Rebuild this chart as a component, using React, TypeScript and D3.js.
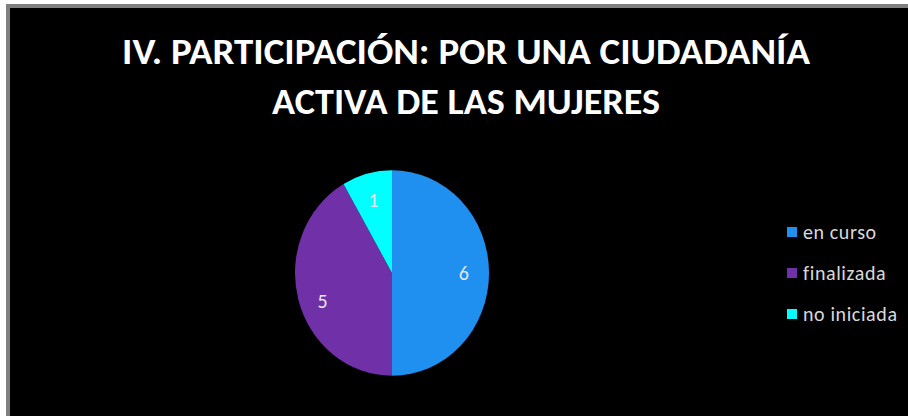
import React from "react";
import * as d3 from "d3";

const categories = ["en curso", "finalizada", "no iniciada"];
const values = [6, 5, 1];
const colors = ["#1F90F0", "#7030A8", "#00FFFF"];
const titleLines = ["IV. PARTICIPACIÓN: POR UNA CIUDADANÍA", "ACTIVA DE LAS MUJERES"];

export default function App() {
  const W = 908, H = 416;
  const cx = 392, cy = 273, r = 97, sy = 1.06;
  const pie = d3.pie<number>().sort(null).value((d) => d);
  const arcs = pie(values);
  const arc = d3.arc<d3.PieArcDatum<number>>().innerRadius(0).outerRadius(r);
  const labelArc = d3.arc<d3.PieArcDatum<number>>().innerRadius(r * 0.74).outerRadius(r * 0.74);
  const font = "Carlito, Calibri, Lato, 'Open Sans', sans-serif";
  const legendY = d3.scalePoint<string>().domain(categories).range([232, 314]);
  return (
    <svg width={W} height={H} style={{ position: "absolute", left: 0, top: 0 }}>
      <rect x={0} y={0} width={W} height={H} fill="#ffffff" />
      <rect x={8} y={6} width={W} height={H} fill="#000" stroke="#808080" strokeWidth={4} />
      <g fontFamily={font} fill="#fff" fontWeight="bold" textAnchor="middle">
        <text x={466} y={64} fontSize={36} textLength={688} lengthAdjust="spacingAndGlyphs">{titleLines[0]}</text>
        <text x={466} y={114} fontSize={36} textLength={388} lengthAdjust="spacingAndGlyphs">{titleLines[1]}</text>
      </g>
      <g transform={`translate(${cx},${cy})`}>
        <g transform={`scale(1,${sy})`}>
          {arcs.map((a, i) => (
            <path key={i} d={arc(a) || ""} fill={colors[i]} />
          ))}
        </g>
        {arcs.map((a, i) => {
          const [x, y] = labelArc.centroid(a);
          return (
            <text key={"l" + i} x={x} y={y * sy + (i === 1 ? 8 : 0)} dy="0.35em" textAnchor="middle" fontFamily={font} fontSize={20} fill="#e6e6f0">
              {values[i]}
            </text>
          );
        })}
      </g>
      <g fontFamily={font}>
        {categories.map((c, i) => (
          <g key={c} transform={`translate(787,${legendY(c)})`}>
            <rect x={0} y={-5} width={10} height={10} fill={colors[i]} />
            <text x={16} y={0} dy="0.35em" fontSize={20} letterSpacing={0.6} fill="#d9d9d9">{c}</text>
          </g>
        ))}
      </g>
    </svg>
  );
}
